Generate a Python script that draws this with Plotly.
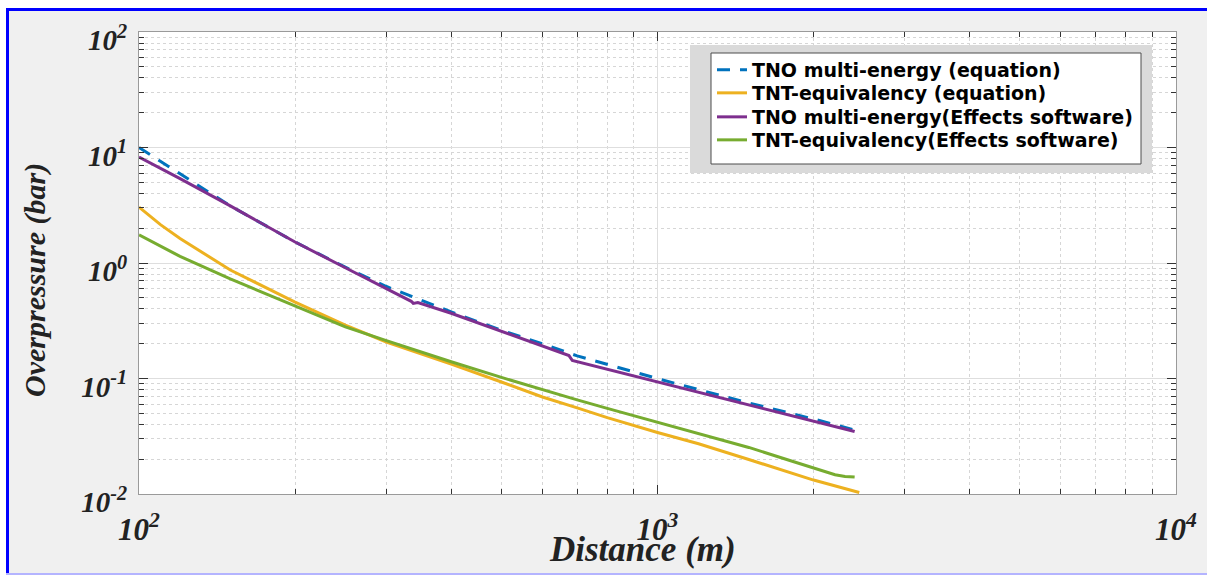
import plotly.graph_objects as go

# ---- data -----------------------------------------------------------------
distance_tno_eq = [100, 120, 150, 200, 250, 300, 338, 400, 500, 600, 700, 800,
                   1000, 1200, 1500, 2000, 2400]
overpressure_tno_eq = [10.0, 5.9, 3.12, 1.52, 0.92, 0.626, 0.508, 0.377, 0.261,
                       0.200, 0.157, 0.132, 0.0998, 0.0802, 0.0614, 0.0446, 0.0358]

distance_tnt_eq = [100, 110, 120, 150, 200, 250, 300, 350, 400, 500, 600, 700,
                   800, 1000, 1200, 1500, 2000, 2450]
overpressure_tnt_eq = [3.05, 2.15, 1.63, 0.869, 0.459, 0.290, 0.207, 0.1645,
                       0.133, 0.0933, 0.0692, 0.0556, 0.0458, 0.0341, 0.0272,
                       0.0199, 0.0132, 0.0103]

distance_tno_fx = [100, 120, 150, 200, 250, 300, 335, 338, 345, 400, 500, 600,
                   675, 685, 800, 1000, 1200, 1500, 2000, 2400]
overpressure_tno_fx = [8.28, 5.38, 3.12, 1.52, 0.91, 0.60, 0.466, 0.447, 0.455,
                       0.367, 0.256, 0.191, 0.158, 0.143, 0.120, 0.094, 0.0769,
                       0.0597, 0.0430, 0.0348]

distance_tnt_fx = [100, 120, 150, 200, 250, 300, 400, 500, 600, 700, 800, 1000,
                   1200, 1500, 1800, 2000, 2100, 2200, 2300, 2400]
overpressure_tnt_fx = [1.75, 1.14, 0.727, 0.424, 0.280, 0.213, 0.1396, 0.1022,
                       0.0798, 0.0653, 0.0551, 0.0418, 0.0335, 0.0253, 0.0195,
                       0.0168, 0.0155, 0.0147, 0.0142, 0.0140]

series_names = [
    "TNO multi-energy (equation)",
    "TNT-equivalency (equation)",
    "TNO multi-energy(Effects software)",
    "TNT-equivalency(Effects software)",
]

x_tick_values = [100, 1000, 10000]
x_tick_labels = ["10<sup>2</sup>", "10<sup>3</sup>", "10<sup>4</sup>"]
y_tick_values = [0.01, 0.1, 1, 10, 100]
y_tick_labels = ["10<sup>-2</sup>", "10<sup>-1</sup>", "10<sup>0</sup>",
                 "10<sup>1</sup>", "10<sup>2</sup>"]

# ---- figure geometry (page pixels) ----------------------------------------
W, H = 1207, 575
PL, PR, PT, PB = 139, 1176, 32, 494


def fx(p):
    return (p - PL) / (PR - PL)


def fy(p):
    return (PB - p) / (PB - PT)


SERIF = "Liberation Serif, Times New Roman, serif"
INK = "#222222"

# one legend per entry so the rows sit at a fixed spacing
legend_ids = ["legend", "legend2", "legend3", "legend4"]
legend_rows = [70, 93, 117, 140]

fig = go.Figure()
fig.add_trace(go.Scatter(x=distance_tno_eq, y=overpressure_tno_eq, mode="lines",
                         name=series_names[0], legend=legend_ids[0],
                         line=dict(color="#0072BD", width=3, dash="13px,10px")))
fig.add_trace(go.Scatter(x=distance_tnt_eq, y=overpressure_tnt_eq, mode="lines",
                         name=series_names[1], legend=legend_ids[1],
                         line=dict(color="#EDB120", width=3)))
fig.add_trace(go.Scatter(x=distance_tno_fx, y=overpressure_tno_fx, mode="lines",
                         name=series_names[2], legend=legend_ids[2],
                         line=dict(color="#7E2F8E", width=3)))
fig.add_trace(go.Scatter(x=distance_tnt_fx, y=overpressure_tnt_fx, mode="lines",
                         name=series_names[3], legend=legend_ids[3],
                         line=dict(color="#77AC30", width=3)))

axis_common = dict(
    type="log", automargin=False,
    showline=True, linecolor="#9a9a9a", linewidth=1, mirror="ticks",
    ticks="inside", ticklen=9, tickcolor="#333333", tickwidth=1,
    showgrid=True, gridcolor="#dedede", gridwidth=1,
    zeroline=False,
    minor=dict(dtick="D1", ticks="inside", ticklen=5, tickcolor="#333333",
               showgrid=True, gridcolor="#d6d6d6", griddash="dot", gridwidth=1),
    tickmode="array",
)

fig.update_xaxes(
    **axis_common,
    range=[2, 4],
    tickvals=x_tick_values, ticktext=x_tick_labels,
    tickfont=dict(family=SERIF, size=31, weight="bold", style="italic", color=INK),
    ticklabelstandoff=8,
)
fig.update_yaxes(
    **axis_common,
    range=[-2, 2],
    tickvals=y_tick_values, ticktext=y_tick_labels,
    tickfont=dict(family=SERIF, size=29, weight="bold", style="italic", color=INK),
    ticklabelstandoff=5, ticklabelshift=8,
)

# page border: white strips, blue edge lines, thin lavender bottom rule
border_shapes = [
    dict(type="rect", xref="paper", yref="paper", x0=fx(0), x1=fx(W), y0=fy(8), y1=fy(0),
         fillcolor="white", line=dict(width=0), layer="above"),
    dict(type="rect", xref="paper", yref="paper", x0=fx(0), x1=fx(6), y0=fy(H), y1=fy(0),
         fillcolor="white", line=dict(width=0), layer="above"),
    dict(type="rect", xref="paper", yref="paper", x0=fx(6), x1=fx(W), y0=fy(11), y1=fy(8),
         fillcolor="#0000ff", line=dict(width=0), layer="above"),
    dict(type="rect", xref="paper", yref="paper", x0=fx(6), x1=fx(9), y0=fy(H), y1=fy(8),
         fillcolor="#0000ff", line=dict(width=0), layer="above"),
    dict(type="rect", xref="paper", yref="paper", x0=fx(6), x1=fx(W), y0=fy(575), y1=fy(573),
         fillcolor="#b4b4ff", line=dict(width=0), layer="above"),
]

# legend frame: grey surround and white box with dark edge
legend_shapes = [
    dict(type="rect", xref="paper", yref="paper", x0=fx(690), x1=fx(1152), y0=fy(173), y1=fy(45),
         fillcolor="#dadada", line=dict(width=0), layer="above"),
    dict(type="rect", xref="paper", yref="paper", x0=fx(711), x1=fx(1141), y0=fy(164), y1=fy(53),
         fillcolor="white", line=dict(color="#4d4d4d", width=1), layer="above"),
]

legend_font = dict(family="DejaVu Sans", size=19, weight="bold", color="black")
legend_layout = {
    lid: dict(x=fx(712), y=fy(row), xanchor="left", yanchor="middle",
              bgcolor="rgba(0,0,0,0)", borderwidth=0, font=legend_font)
    for lid, row in zip(legend_ids, legend_rows)
}

fig.update_layout(
    width=W, height=H,
    margin=dict(l=PL, r=W - PR, t=PT, b=H - PB, autoexpand=False),
    paper_bgcolor="#f0f0f0", plot_bgcolor="white",
    shapes=border_shapes + legend_shapes,
    showlegend=True,
    annotations=[
        dict(text="Overpressure (bar)", xref="paper", yref="paper",
             x=fx(35), y=fy(280), xanchor="center", yanchor="middle",
             textangle=-90, showarrow=False,
             font=dict(family=SERIF, size=30, weight="bold", style="italic", color=INK)),
        dict(text="Distance (m)", xref="paper", yref="paper",
             x=fx(642), y=fy(549), xanchor="center", yanchor="middle",
             showarrow=False,
             font=dict(family=SERIF, size=35, weight="bold", style="italic", color=INK)),
    ],
    **legend_layout,
)

fig.write_html("out.html")
